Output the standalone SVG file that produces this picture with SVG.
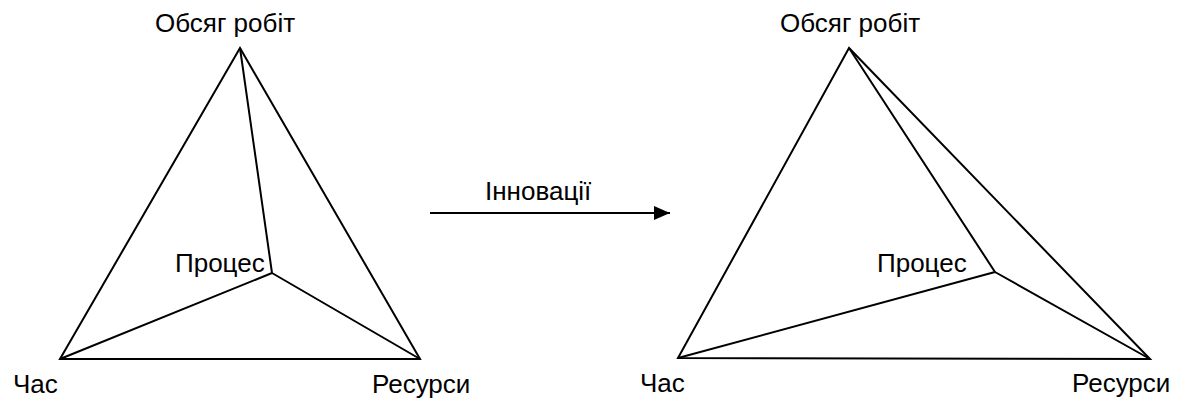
<svg xmlns="http://www.w3.org/2000/svg" width="1186" height="399" viewBox="0 0 1186 399">
<style>
text{font-family:"Liberation Sans",Arial,sans-serif;font-size:26px;fill:#000}
.ln{stroke:#000;stroke-width:2;fill:none;stroke-linejoin:miter}
</style>
<defs>
<marker id="ah" markerWidth="16" markerHeight="14" refX="16" refY="7" orient="auto" markerUnits="userSpaceOnUse">
<path d="M0,0 L16,7 L0,14 Z" fill="#000"/>
</marker>
</defs>
<rect width="1186" height="399" fill="#fff"/>
<g id="connectors">
<g id="left-triangle">
<path class="ln" d="M240,48 L60,359 L420,359 Z"/>
<path class="ln" d="M240,48 L272,273 M60,359 L272,273 M420,359 L272,273"/>
</g>
<g id="right-triangle">
<path class="ln" d="M849,48 L678,358 L1150,359 Z"/>
<path class="ln" d="M849,48 L995,272 M678,358 L995,272 M1150,359 L995,272"/>
</g>
<line id="innovation-arrow" x1="430" y1="213" x2="670" y2="213" stroke="#000" stroke-width="2" marker-end="url(#ah)"/>
</g>
<g id="left-labels">
<text id="l-scope" x="155" y="32">Обсяг робіт</text>
<text id="l-process" x="175" y="272">Процес</text>
<text id="l-time" x="13" y="393">Час</text>
<text id="l-resources" x="372" y="393">Ресурси</text>
</g>
<text id="innovation-label" x="485" y="200">Інновації</text>
<g id="right-labels">
<text id="r-scope" x="780" y="32">Обсяг робіт</text>
<text id="r-process" x="877" y="272">Процес</text>
<text id="r-time" x="640" y="392">Час</text>
<text id="r-resources" x="1072" y="392">Ресурси</text>
</g>
</svg>
